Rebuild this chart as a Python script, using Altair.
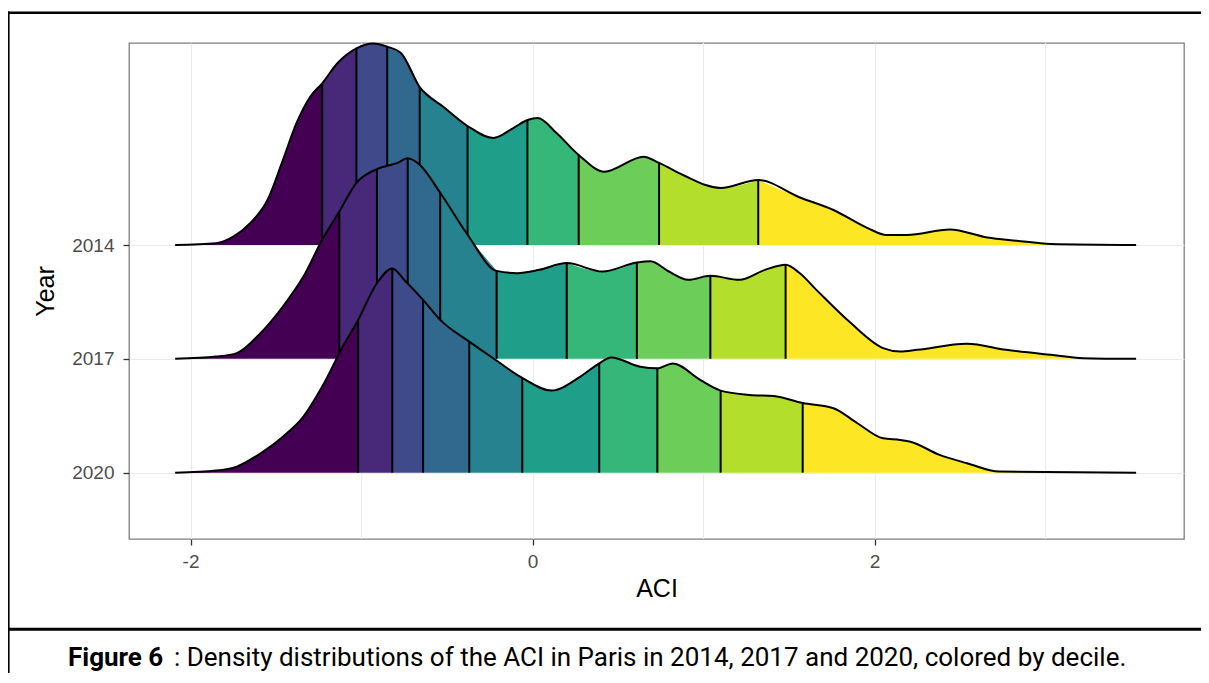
import altair as alt
import pandas as pd

# ---------------- data ----------------
years = ["2014", "2017", "2020"]
baselines = [3, 2, 1]          # vertical slot of each ridge (2014 on top)

x_2014 = [-2.09, -1.85, -1.75, -1.65, -1.55, -1.46, -1.38, -1.30, -1.23, -1.14,
          -1.03, -0.93, -0.85, -0.77, -0.66, -0.52, -0.38, -0.23, -0.11, -0.03,
          0.03, 0.14, 0.27, 0.42, 0.65, 0.74, 0.88, 1.10, 1.32, 1.56,
          1.76, 1.96, 2.07, 2.19, 2.44, 2.66, 2.83, 3.03, 3.53]
h_2014 = [0.0, 0.015, 0.073, 0.193, 0.395, 0.747, 1.072, 1.303, 1.421, 1.599,
          1.728, 1.771, 1.743, 1.687, 1.388, 1.213, 1.046, 0.940, 1.030, 1.098,
          1.116, 0.984, 0.791, 0.644, 0.776, 0.721, 0.615, 0.501, 0.571, 0.420,
          0.308, 0.149, 0.088, 0.088, 0.136, 0.066, 0.038, 0.009, 0.0]
dec_2014 = [-1.23, -1.03, -0.85, -0.66, -0.38, -0.03, 0.27, 0.74, 1.32]

x_2017 = [-2.09, -1.85, -1.73, -1.59, -1.46, -1.34, -1.23, -1.13, -1.03, -0.91,
          -0.79, -0.73, -0.66, -0.54, -0.38, -0.21, -0.09, 0.04, 0.20, 0.41,
          0.61, 0.69, 0.80, 0.91, 1.04, 1.21, 1.36, 1.48, 1.56, 1.66,
          1.86, 2.05, 2.15, 2.25, 2.54, 2.77, 3.03, 3.22, 3.53]
h_2017 = [0.0, 0.020, 0.050, 0.228, 0.460, 0.723, 1.046, 1.294, 1.547, 1.667,
          1.722, 1.762, 1.705, 1.459, 1.090, 0.773, 0.753, 0.782, 0.841, 0.767,
          0.846, 0.857, 0.765, 0.694, 0.729, 0.694, 0.782, 0.826, 0.756, 0.606,
          0.316, 0.094, 0.064, 0.079, 0.132, 0.079, 0.035, 0.006, 0.0]
dec_2017 = [-1.13, -0.91, -0.73, -0.54, -0.21, 0.20, 0.61, 1.04, 1.48]

x_2020 = [-2.09, -1.85, -1.73, -1.59, -1.46, -1.34, -1.23, -1.11, -1.02, -0.91,
          -0.82, -0.75, -0.64, -0.54, -0.37, -0.23, -0.06, 0.11, 0.28, 0.39,
          0.46, 0.63, 0.73, 0.82, 0.98, 1.10, 1.27, 1.41, 1.58, 1.76,
          1.90, 2.05, 2.15, 2.21, 2.38, 2.54, 2.73, 3.53]
h_2020 = [0.0, 0.018, 0.053, 0.170, 0.316, 0.492, 0.756, 1.107, 1.342, 1.664,
          1.794, 1.693, 1.518, 1.342, 1.151, 1.005, 0.832, 0.721, 0.844, 0.961,
          1.012, 0.931, 0.917, 0.960, 0.815, 0.721, 0.683, 0.674, 0.612, 0.566,
          0.434, 0.302, 0.287, 0.272, 0.156, 0.083, 0.009, 0.0]
dec_2020 = [-1.02, -0.82, -0.64, -0.37, -0.06, 0.39, 0.73, 1.10, 1.58]

x_tick_values = [-2, 0, 2]
x_tick_labels = ["-2", "0", "2"]
x_minor_grid = [-1, 1, 3]

decile_colors = ["#440154", "#482878", "#3E4A89", "#31688E", "#26828E",
                 "#1F9E89", "#35B779", "#6DCD59", "#B4DE2C", "#FDE725"]

caption_bold = "Figure 6"
caption_text = ": Density distributions of the ACI in Paris in 2014, 2017 and 2020, colored by decile."

# ---------------- scales / encodings ----------------
x_scale = alt.Scale(domain=[-2.36, 3.81], nice=False, zero=False)
y_scale = alt.Scale(domain=[0.417, 4.775], nice=False, zero=False)

x_label_expr = " : ".join(
    f"datum.value == {v} ? '{l}'" for v, l in zip(x_tick_values, x_tick_labels)
) + " : ''"
y_label_expr = " : ".join(
    f"datum.value == {b} ? '{y}'" for b, y in zip(baselines, years)
) + " : ''"

x_axis = alt.Axis(values=x_tick_values, labelExpr=x_label_expr, title="ACI")
y_axis = alt.Axis(values=baselines, labelExpr=y_label_expr, title="Year")


def ridge_layers(year, base, xs, hs, decs):
    pts = list(zip(xs, hs))
    hmap = dict(pts)
    edges = [float("-inf")] + decs + [float("inf")]
    seg_rows = []
    for k in range(10):
        lo, hi = edges[k], edges[k + 1]
        for x, h in pts:
            if lo <= x <= hi:
                seg_rows.append({"year": year, "seg": k, "x": x,
                                 "top": base + h, "base": base})
    line_rows = [{"year": year, "x": x, "top": base + h} for x, h in pts]
    rule_rows = [{"year": year, "x": d, "top": base + hmap[d], "base": base}
                 for d in decs]

    area = alt.Chart(pd.DataFrame(seg_rows)).mark_area(
        interpolate="monotone", strokeWidth=0, opacity=1
    ).encode(
        x=alt.X("x:Q", scale=x_scale, axis=x_axis),
        y=alt.Y("top:Q", scale=y_scale, axis=y_axis),
        y2="base:Q",
        color=alt.Color("seg:O", scale=alt.Scale(domain=list(range(10)),
                                                 range=decile_colors),
                        legend=None),
        detail="seg:O",
    )
    line = alt.Chart(pd.DataFrame(line_rows)).mark_line(
        interpolate="monotone", color="black", strokeWidth=2
    ).encode(
        x=alt.X("x:Q", scale=x_scale, axis=x_axis),
        y=alt.Y("top:Q", scale=y_scale, axis=y_axis),
    )
    rules = alt.Chart(pd.DataFrame(rule_rows)).mark_rule(
        color="black", strokeWidth=2
    ).encode(
        x=alt.X("x:Q", scale=x_scale, axis=x_axis),
        y=alt.Y("top:Q", scale=y_scale, axis=y_axis),
        y2="base:Q",
    )
    return [area, rules, line]


minor_grid = alt.Chart(pd.DataFrame({"x": x_minor_grid})).mark_rule(
    color="#ebebeb", strokeWidth=1.1
).encode(x=alt.X("x:Q", scale=x_scale, axis=x_axis))

layers = [minor_grid]
for yr, b, xs, hs, ds in [("2014", 3, x_2014, h_2014, dec_2014),
                          ("2017", 2, x_2017, h_2017, dec_2017),
                          ("2020", 1, x_2020, h_2020, dec_2020)]:
    layers += ridge_layers(yr, b, xs, hs, ds)

# ---------------- figure frame and caption (decoration) ----------------
one = pd.DataFrame({"k": [0]})
frame_left = alt.Chart(one).mark_rule(color="black", strokeWidth=2.6).encode(
    x=alt.value(-120.7), y=alt.value(-31.5), y2=alt.value(640))
frame_top = alt.Chart(one).mark_rule(color="black", strokeWidth=2.6).encode(
    x=alt.value(-122), x2=alt.value(1075), y=alt.value(-30.3))
frame_sep = alt.Chart(one).mark_rule(color="black", strokeWidth=3).encode(
    x=alt.value(-122), x2=alt.value(1075), y=alt.value(586.3))
cap1 = alt.Chart(one).mark_text(
    text=caption_bold, align="left", baseline="alphabetic", font="Roboto",
    fontSize=26, fontWeight="bold", color="black"
).encode(x=alt.value(-61), y=alt.value(623))
cap2 = alt.Chart(one).mark_text(
    text=caption_text, align="left", baseline="alphabetic", font="Roboto",
    fontSize=26, fontWeight="normal", color="black"
).encode(x=alt.value(45), y=alt.value(623))

layers += [frame_left, frame_top, frame_sep, cap1, cap2]

chart = alt.layer(*layers).properties(
    width=1055,
    height=496,
    padding={"left": 121, "top": 35, "right": 17, "bottom": 134},
    autosize=alt.AutoSizeParams(type="none"),
).configure_view(
    stroke="#7f7f7f", strokeWidth=1.3
).configure_axis(
    grid=True, gridColor="#ebebeb", gridWidth=1.1,
    domain=False,
    tickColor="#333333", tickSize=6, tickWidth=1.3,
    labelFont="Liberation Sans", labelFontSize=19, labelColor="#4d4d4d",
    labelPadding=7,
    titleFont="Liberation Sans", titleFontSize=25, titleFontWeight="normal",
    titleColor="black",
).configure_axisX(
    titlePadding=5
).configure_axisY(
    labelPadding=9, titlePadding=13
)

chart.save("out.html", embed_options={"renderer": "svg", "actions": False})
